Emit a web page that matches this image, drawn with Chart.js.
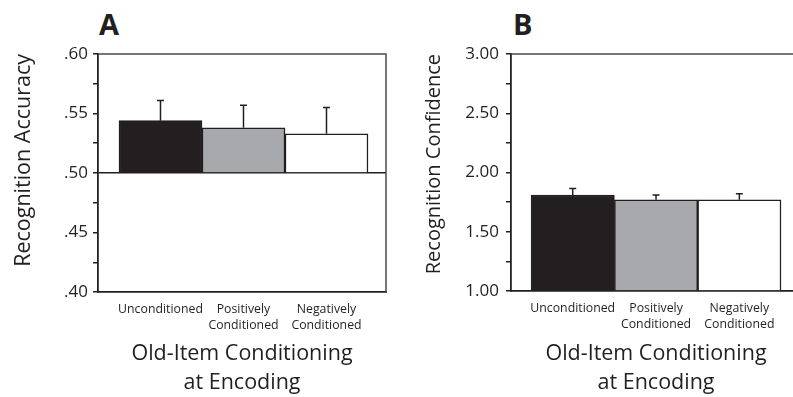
<!DOCTYPE html>
<html>
<head>
<meta charset="utf-8">
<script src="https://cdn.jsdelivr.net/npm/chart.js@4"></script>
<style>
  html, body { margin: 0; padding: 0; background: #fff; overflow: hidden; }
  body { width: 793px; height: 397px; position: relative; font-family: "Open Sans", sans-serif; }
  .wrap { position: absolute; top: 0; height: 397px; }
  #wrapA { left: 0; width: 400px; }
  #wrapB { left: 400px; width: 410px; }
  .letter { position: absolute; top: 4px; font: bold 29px "Open Sans", sans-serif; color: #231f20; }
</style>
</head>
<body>
<div class="letter" style="left:99px">A</div>
<div class="letter" style="left:513px">B</div>
<div class="wrap" id="wrapA"><canvas id="chartA" width="400" height="397"></canvas></div>
<div class="wrap" id="wrapB"><canvas id="chartB" width="410" height="397"></canvas></div>
<script>
const categories = ['Unconditioned', ['Positively', 'Conditioned'], ['Negatively', 'Conditioned']];
const barColors = ['#231f20', '#a7a9ac', '#ffffff'];

// panel A: recognition accuracy (bars rise from .50)
const accuracy = [0.544, 0.538, 0.533];
const accuracyErr = [0.017, 0.019, 0.022];
// panel B: recognition confidence
const confidence = [1.81, 1.77, 1.77];
const confidenceErr = [0.055, 0.04, 0.05];

const ink = '#231f20';

const errorBars = {
  id: 'errorBars',
  afterDatasetsDraw(chart, args, opts) {
    const ctx = chart.ctx;
    const meta = chart.getDatasetMeta(0);
    const y = chart.scales.y;
    ctx.save();
    ctx.strokeStyle = ink;
    ctx.lineWidth = 1.5;
    meta.data.forEach((bar, i) => {
      const v = opts.values[i], e = opts.errors[i];
      const y0 = y.getPixelForValue(v);
      const y1 = y.getPixelForValue(v + e);
      ctx.beginPath();
      ctx.moveTo(bar.x, y0);
      ctx.lineTo(bar.x, y1);
      ctx.moveTo(bar.x - 3.5, y1);
      ctx.lineTo(bar.x + 3.5, y1);
      ctx.stroke();
    });
    ctx.restore();
  }
};

const frame = {
  id: 'frame',
  afterDraw(chart, args, opts) {
    const a = chart.chartArea, ctx = chart.ctx;
    ctx.save();
    ctx.strokeStyle = '#4a4a4a';
    ctx.lineWidth = 1.5;
    ctx.beginPath();
    ctx.moveTo(a.left, a.top);
    ctx.lineTo(a.right, a.top);
    if (opts.right) ctx.lineTo(a.right, a.bottom);
    ctx.stroke();
    ctx.restore();
  }
};

function makeChart(id, o) {
  return new Chart(document.getElementById(id), {
    type: 'bar',
    data: {
      datasets: [{
        data: o.values.map((v, i) => ({ x: i, y: v })),
        base: o.base,
        backgroundColor: barColors,
        borderColor: ink,
        borderWidth: 1.5,
        barPercentage: 1,
        categoryPercentage: 1
      }]
    },
    options: {
      responsive: false,
      animation: false,
      layout: { padding: { top: 54, right: o.padRight, left: 0, bottom: 0 } },
      plugins: {
        legend: { display: false },
        tooltip: { enabled: false },
        errorBars: { values: o.values, errors: o.errors },
        frame: { right: o.frameRight }
      },
      scales: {
        x: {
          type: 'linear',
          offset: false,
          min: o.xMin, max: o.xMax,
          afterBuildTicks: s => { s.ticks = categories.map((c, i) => ({ value: i })); },
          afterFit: s => { s.height = o.xHeight; },
          grid: { display: true, drawOnChartArea: false, drawTicks: false },
          border: { display: true, color: ink, width: 1.8 },
          ticks: {
            color: ink,
            font: { family: 'Open Sans', size: 12.3, lineHeight: 1.33 },
            padding: 9,
            maxRotation: 0,
            autoSkip: false,
            callback: v => categories[v] !== undefined ? categories[v] : ''
          },
          title: {
            display: true,
            text: ['Old-Item Conditioning', 'at Encoding'],
            color: ink,
            font: { family: 'Open Sans', size: 21.5, lineHeight: 1.33 },
            padding: { top: 0, bottom: 0 }
          }
        },
        y: {
          min: o.min, max: o.max,
          afterFit: s => { s.width = o.yWidth; },
          grid: {
            drawTicks: true,
            tickLength: 5,
            tickColor: ink,
            lineWidth: 1.5,
            color: c => (o.line !== null && c.tick && Math.abs(c.tick.value - o.line) < 1e-9) ? ink : 'rgba(0,0,0,0)'
          },
          border: { display: true, color: ink, width: 1.8 },
          ticks: {
            stepSize: o.step,
            color: ink,
            padding: o.tickPad,
            font: { family: 'Open Sans', size: 17 },
            callback: (v, i) => i % 2 === 0 ? o.fmt(v) : ''
          },
          title: {
            display: true,
            text: o.yTitle,
            align: 'end',
            color: ink,
            font: { family: 'Open Sans', size: o.yTitleSize },
            padding: { top: o.titlePad, bottom: 0 }
          }
        }
      }
    },
    plugins: [errorBars, frame]
  });
}

makeChart('chartA', {
  values: accuracy, errors: accuracyErr, base: 0.5,
  min: 0.4, max: 0.6, step: 0.025, line: 0.5,
  xMin: -0.753, xMax: 2.717,
  fmt: v => v.toFixed(2).replace(/^0/, ''),
  yTitle: 'Recognition Accuracy', yTitleSize: 21.5,
  padRight: 14, xHeight: 105, yWidth: 98,
  tickPad: 5, titlePad: 11, frameRight: true
});

makeChart('chartB', {
  values: confidence, errors: confidenceErr, base: 1,
  min: 1, max: 3, step: 0.25, line: null,
  xMin: -0.741, xMax: 2.740,
  fmt: v => v.toFixed(2),
  yTitle: 'Recognition Confidence', yTitleSize: 20,
  padRight: 9, xHeight: 106, yWidth: 111,
  tickPad: 7, titlePad: 22, frameRight: false
});
</script>
</body>
</html>
